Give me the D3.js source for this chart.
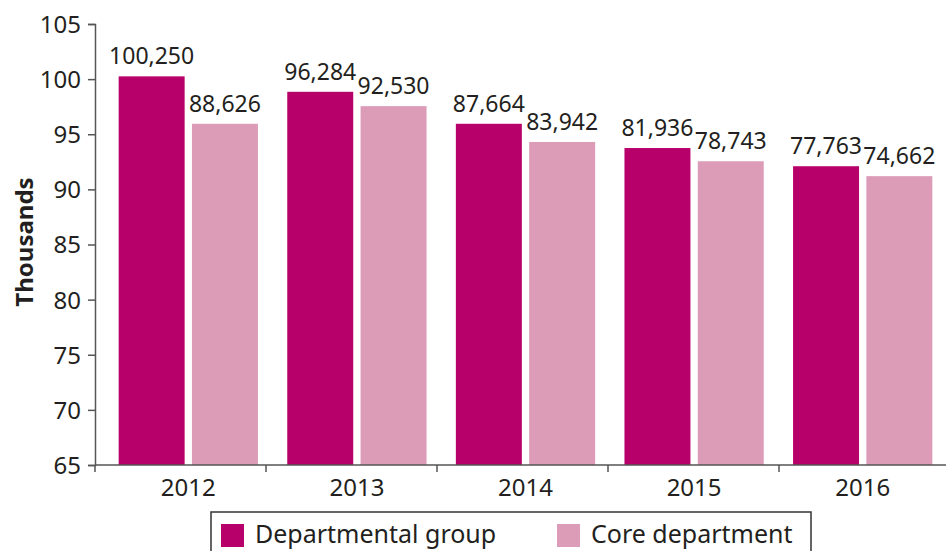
<!DOCTYPE html>
<html>
<head>
<meta charset="utf-8">
<script src="https://cdn.jsdelivr.net/npm/d3@7"></script>
<style>
  body { margin: 0; background: #fff; }
  text { font-family: "Noto Sans", "Open Sans", sans-serif; fill: #231f20; }
</style>
</head>
<body>
<div id="chart"></div>
<script>
// data
var years = ["2012", "2013", "2014", "2015", "2016"];
var series = ["Departmental group", "Core department"];
// bar heights in thousands (as drawn against the axis)
var deptValues = [100.25, 98.85, 95.95, 93.75, 92.1];
var coreValues = [95.95, 97.55, 94.3, 92.55, 91.2];
// printed labels above the bars
var deptLabels = ["100,250", "96,284", "87,664", "81,936", "77,763"];
var coreLabels = ["88,626", "92,530", "83,942", "78,743", "74,662"];
var yTicks = [65, 70, 75, 80, 85, 90, 95, 100, 105];

var colors = ["#b7006a", "#dc9cb8"];

var width = 948, height = 551;

var svg = d3.select("#chart").append("svg")
  .attr("width", width)
  .attr("height", height);

// scales
var y = d3.scaleLinear().domain([65, 105]).range([465, 24]);
var xGroup = d3.scaleBand().domain(years).range([104, 947]);
var xSub = d3.scaleBand().domain(series).range([0, xGroup.bandwidth()])
  .paddingInner(0.1).paddingOuter(0.2);
var xTick = d3.scaleBand().domain(years).range([95, 950]);

var rows = years.map(function(yr, i) {
  return [
    { year: yr, key: series[0], value: deptValues[i], label: deptLabels[i] },
    { year: yr, key: series[1], value: coreValues[i], label: coreLabels[i] }
  ];
});

// bars
var groups = svg.selectAll(".grp")
  .data(rows)
  .enter().append("g")
  .attr("class", "grp")
  .attr("transform", function(d) { return "translate(" + xGroup(d[0].year) + ",0)"; });

groups.selectAll("rect")
  .data(function(d) { return d; })
  .enter().append("rect")
  .attr("x", function(d) { return xSub(d.key); })
  .attr("y", function(d) { return y(d.value); })
  .attr("width", xSub.bandwidth())
  .attr("height", function(d) { return y(65) - y(d.value); })
  .attr("fill", function(d, i) { return colors[i]; });

groups.selectAll("text")
  .data(function(d) { return d; })
  .enter().append("text")
  .attr("x", function(d) { return xSub(d.key) + xSub.bandwidth() / 2; })
  .attr("y", function(d) { return y(d.value) - 12; })
  .attr("text-anchor", "middle")
  .style("font-size", "23px")
  .text(function(d) { return d.label; });

// y axis
var yAxis = svg.append("g")
  .attr("transform", "translate(95,0)")
  .call(d3.axisLeft(y).tickValues(yTicks).tickSize(7).tickPadding(7));
yAxis.selectAll("text").style("font-size", "24px").attr("dy", "0.35em");
yAxis.select(".domain").attr("stroke", "#555").attr("stroke-width", 1.5);
yAxis.selectAll(".tick line").attr("stroke", "#555").attr("stroke-width", 1.5);

// x axis: labels under the bar groups, tick marks on the category edges
var xAxis = svg.append("g")
  .attr("transform", "translate(0,465)")
  .call(d3.axisBottom(xGroup).tickSize(0).tickPadding(14));
xAxis.select(".domain").remove();
xAxis.selectAll("text").style("font-size", "24px");

svg.append("line")
  .attr("x1", 95).attr("x2", 946)
  .attr("y1", 465).attr("y2", 465)
  .attr("stroke", "#555").attr("stroke-width", 1.5);

svg.selectAll(".xtick")
  .data(years)
  .enter().append("line")
  .attr("class", "xtick")
  .attr("x1", function(d) { return xTick(d); })
  .attr("x2", function(d) { return xTick(d); })
  .attr("y1", 465).attr("y2", 472)
  .attr("stroke", "#555").attr("stroke-width", 1.5);

// y title
svg.append("text")
  .attr("transform", "translate(33,242) rotate(-90)")
  .attr("text-anchor", "middle")
  .style("font-size", "24px")
  .style("font-weight", "bold")
  .text("Thousands");

// legend
var legend = svg.append("g").attr("transform", "translate(211,512)");
legend.append("rect")
  .attr("x", 0).attr("y", 0)
  .attr("width", 600).attr("height", 60)
  .attr("fill", "none")
  .attr("stroke", "#333")
  .attr("stroke-width", 1.5);

var legendX = [10, 346];
series.forEach(function(s, i) {
  legend.append("rect")
    .attr("x", legendX[i]).attr("y", 12)
    .attr("width", 23).attr("height", 23)
    .attr("fill", colors[i]);
  legend.append("text")
    .attr("x", legendX[i] + 34).attr("y", 31)
    .style("font-size", "25px")
    .text(s);
});
</script>
</body>
</html>
